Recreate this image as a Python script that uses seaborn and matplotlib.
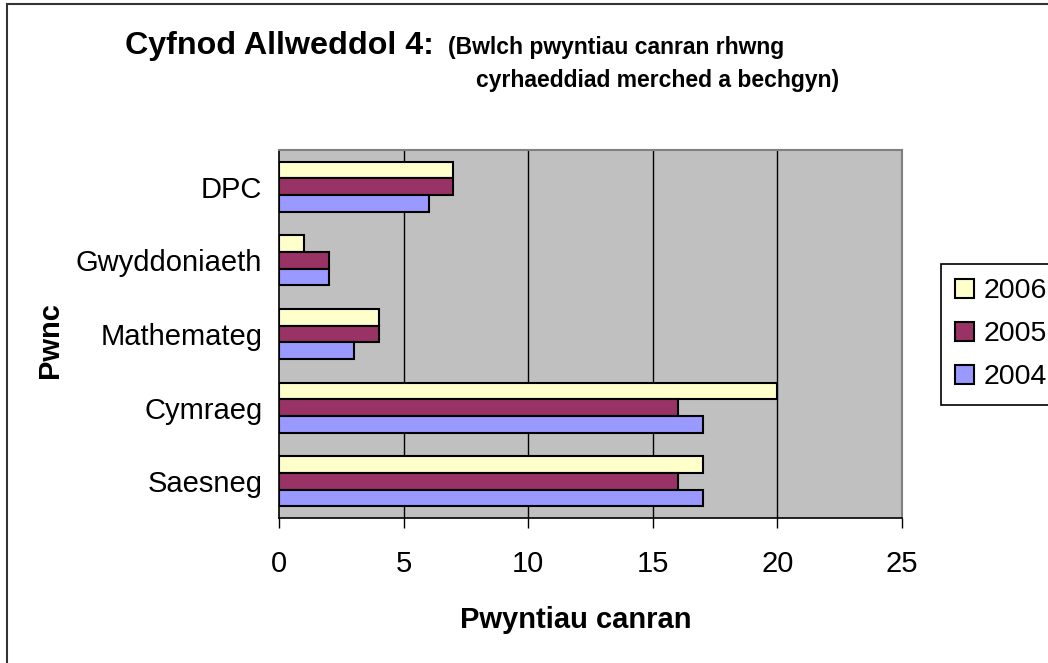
import matplotlib
matplotlib.use("Agg")
import matplotlib.pyplot as plt
from matplotlib.patches import Patch, Rectangle
import seaborn as sns
import numpy as np
import pandas as pd

# Data (top category first)
subjects = ['DPC', 'Gwyddoniaeth', 'Mathemateg', 'Cymraeg', 'Saesneg']
years = ['2006', '2005', '2004']
gap_2006 = [7, 1, 4, 20, 17]
gap_2005 = [7, 2, 4, 16, 16]
gap_2004 = [6, 2, 3, 17, 17]
x_ticks = [0, 5, 10, 15, 20, 25]

colours = {'2006': '#FFFFCC', '2005': '#993366', '2004': '#9999FF'}

df = pd.DataFrame({
    'Pwnc': subjects * 3,
    'Blwyddyn': ['2006'] * 5 + ['2005'] * 5 + ['2004'] * 5,
    'Bwlch': gap_2006 + gap_2005 + gap_2004,
})

sns.set_style("white")
plt.rcParams['font.family'] = ['Liberation Sans', 'DejaVu Sans']
plt.rcParams['text.color'] = 'black'
plt.rcParams['axes.labelcolor'] = 'black'
plt.rcParams['xtick.color'] = 'black'
plt.rcParams['ytick.color'] = 'black'

W, H = 1048, 663
fig = plt.figure(figsize=(W / 100, H / 100), dpi=100)
ax = fig.add_axes([279 / W, 1 - 518 / H, (902 - 279) / W, (518 - 150) / H])

sns.barplot(data=df, y='Pwnc', x='Bwlch', hue='Blwyddyn', order=subjects,
            hue_order=years, palette=colours, orient='h', width=0.68,
            saturation=1, edgecolor='black', linewidth=1.5, errorbar=None,
            ax=ax, legend=False)

ax.set_facecolor('#C0C0C0')
ax.set_xlim(0, 25)
ax.set_ylim(4.5, -0.5)
ax.set_axisbelow(True)
ax.set_xticks(x_ticks)
ax.set_xticklabels([str(t) for t in x_ticks], fontsize=21)
for t in x_ticks[1:-1]:
    ax.axvline(t, color='black', linewidth=1, zorder=0.5)

# category labels without ticks, tick marks between categories
ax.set_yticks(range(len(subjects)))
ax.set_yticklabels(subjects, fontsize=21)
ax.set_yticks(np.arange(-0.5, len(subjects), 1), minor=True)
ax.tick_params(axis='y', which='major', length=0, pad=12)
ax.tick_params(axis='y', which='minor', length=7, width=1, color='black', direction='out')
ax.tick_params(axis='x', which='major', length=7, width=1, color='black', direction='out', pad=16)
ax.tick_params(left=True, bottom=True)

for side in ['left', 'bottom']:
    ax.spines[side].set_color('black')
    ax.spines[side].set_linewidth(1.2)
for side in ['top', 'right']:
    ax.spines[side].set_visible(True)
    ax.spines[side].set_color('#808080')
    ax.spines[side].set_linewidth(1.5)

ax.set_xlabel('Pwyntiau canran', fontsize=21, fontweight='bold', labelpad=20)
ax.xaxis.label.set_x((576 - 279) / 623)
ax.set_ylabel('Pwnc', fontsize=21, fontweight='bold')
ax.yaxis.set_label_coords((64 - 279) / 623, 0.484)

# Legend
handles = [Patch(facecolor=colours[y], edgecolor='black', linewidth=1.5) for y in years]
leg = ax.legend(handles, years, loc='upper left', bbox_to_anchor=(941 / W, 1 - 264 / H),
                bbox_transform=fig.transFigure, fontsize=20.5, frameon=True,
                fancybox=False, framealpha=1, edgecolor='black', borderaxespad=0,
                borderpad=0.5, handlelength=0.65, handleheight=0.65,
                handletextpad=0.33, labelspacing=0.6)
leg.get_frame().set_linewidth(1.2)

# Title
fig.text(125 / W, 1 - 54 / H, 'Cyfnod Allweddol 4:', fontsize=23.2, fontweight='bold',
         ha='left', va='baseline')
fig.text(448 / W, 1 - 54 / H, '(Bwlch pwyntiau canran rhwng', fontsize=16.5,
         fontweight='bold', ha='left', va='baseline')
fig.text(476 / W, 1 - 87 / H, 'cyrhaeddiad merched a bechgyn)', fontsize=16.5,
         fontweight='bold', ha='left', va='baseline')

# outer chart frame (cropped on the right and bottom)
fig.patches.append(Rectangle((7 / W, -0.1), 1.2, 1.1 - 4 / H, transform=fig.transFigure,
                             fill=False, edgecolor='#333333', linewidth=1.5))

fig.savefig('out.png', dpi=100)
